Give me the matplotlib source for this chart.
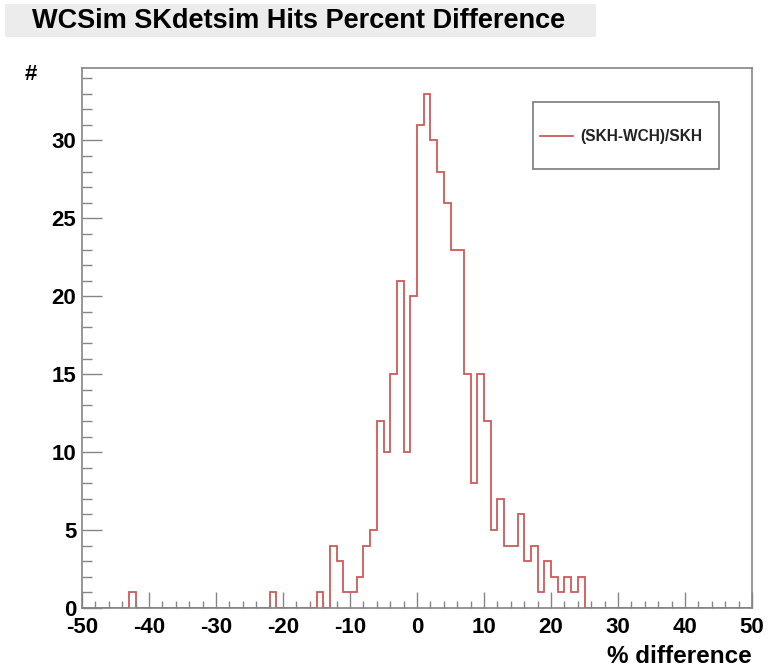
import numpy as np
import matplotlib
matplotlib.use("Agg")
import matplotlib.pyplot as plt
from matplotlib.patches import Rectangle
from matplotlib.lines import Line2D
from matplotlib.ticker import MultipleLocator

plt.rcParams['font.family'] = ['Liberation Sans', 'DejaVu Sans']
plt.rcParams['font.weight'] = 'bold'
plt.rcParams['axes.unicode_minus'] = False

# Histogram binning: 100 bins of width 1 from -50 to 50
x_min, x_max, n_bins = -50, 50, 100

# Non-empty bins: lower edge of each bin and its entry count
bin_low = [-43, -22, -15, -13, -12, -11, -10, -9, -8, -7, -6, -5, -4, -3, -2, -1,
           0, 1, 2, 3, 4, 5, 6, 7, 8, 9, 10, 11, 12, 13, 14, 15, 16, 17, 18, 19,
           20, 21, 22, 23, 24]
hits = [1, 1, 1, 4, 3, 1, 1, 2, 4, 5, 12, 10, 15, 21, 10, 20,
        31, 33, 30, 28, 26, 23, 23, 15, 8, 15, 12, 5, 7, 4, 4, 6, 3, 4, 1, 3,
        2, 1, 2, 1, 2]

x_ticks = [-50, -40, -30, -20, -10, 0, 10, 20, 30, 40, 50]
y_ticks = [0, 5, 10, 15, 20, 25, 30]

title = "WCSim SKdetsim Hits Percent Difference"
legend_label = "(SKH-WCH)/SKH"

edges = np.linspace(x_min, x_max, n_bins + 1)
counts = np.zeros(n_bins)
for lo, h in zip(bin_low, hits):
    counts[int(lo - x_min)] = h

W, H = 768, 671
fig = plt.figure(figsize=(W / 100, H / 100), dpi=100)
ax = fig.add_axes([82 / W, 1 - 608 / H, 670 / W, 540 / H])


def fx(px):
    return px / W


def fy(py):
    return 1 - py / H


line_color = '#cf5a5a'
frame_color = '#858585'

ax.stairs(counts, edges, color=line_color, linewidth=1.3)

ax.set_xlim(x_min, x_max)
ax.set_ylim(0, max(hits) * 1.05)

ax.set_xticks(x_ticks)
ax.set_yticks(y_ticks)
ax.xaxis.set_minor_locator(MultipleLocator(2))
ax.yaxis.set_minor_locator(MultipleLocator(1))

ax.tick_params(axis='x', which='major', direction='in', length=11.5, width=1.0,
               color=frame_color, labelsize=16, pad=6.5, top=False)
ax.tick_params(axis='x', which='minor', direction='in', length=5.4, width=1.0,
               color=frame_color, top=False)
ax.tick_params(axis='y', which='major', direction='in', length=14.4, width=1.0,
               color=frame_color, labelsize=16, pad=4, right=False)
ax.tick_params(axis='y', which='minor', direction='in', length=7.2, width=1.0,
               color=frame_color, right=False)
for lab in ax.get_xticklabels() + ax.get_yticklabels():
    lab.set_fontweight('bold')

for sp in ax.spines.values():
    sp.set_color(frame_color)
    sp.set_linewidth(1.2)

# Axis titles placed at the ends of the axes
fig.text(fx(752), fy(663), "% difference", ha='right', va='baseline',
         fontsize=17.5, fontweight='bold')
fig.text(fx(31), fy(75), "#", ha='center', va='center',
         fontsize=16, fontweight='bold')

# Title on a light grey band
fig.patches.append(Rectangle((fx(5), fy(37)), 591 / W, 33 / H,
                             transform=fig.transFigure, facecolor='#ececec',
                             edgecolor='none', zorder=0))
fig.text(fx(32), fy(21), title, ha='left', va='center',
         fontsize=19.5, fontweight='bold')

# Legend box with a line sample and the series name
fig.patches.append(Rectangle((fx(533), fy(169)), 186 / W, 67 / H,
                             transform=fig.transFigure, facecolor='white',
                             edgecolor='#7a7a7a', linewidth=1.2, zorder=5))
fig.lines.append(Line2D([fx(540), fx(573)], [fy(136), fy(136)],
                        transform=fig.transFigure, color=line_color,
                        linewidth=1.3, zorder=6))
fig.text(fx(580), fy(136), legend_label, ha='left', va='center',
         fontsize=11.2, fontweight='bold', color='#222222', zorder=6)

fig.savefig("out.png", dpi=100)
